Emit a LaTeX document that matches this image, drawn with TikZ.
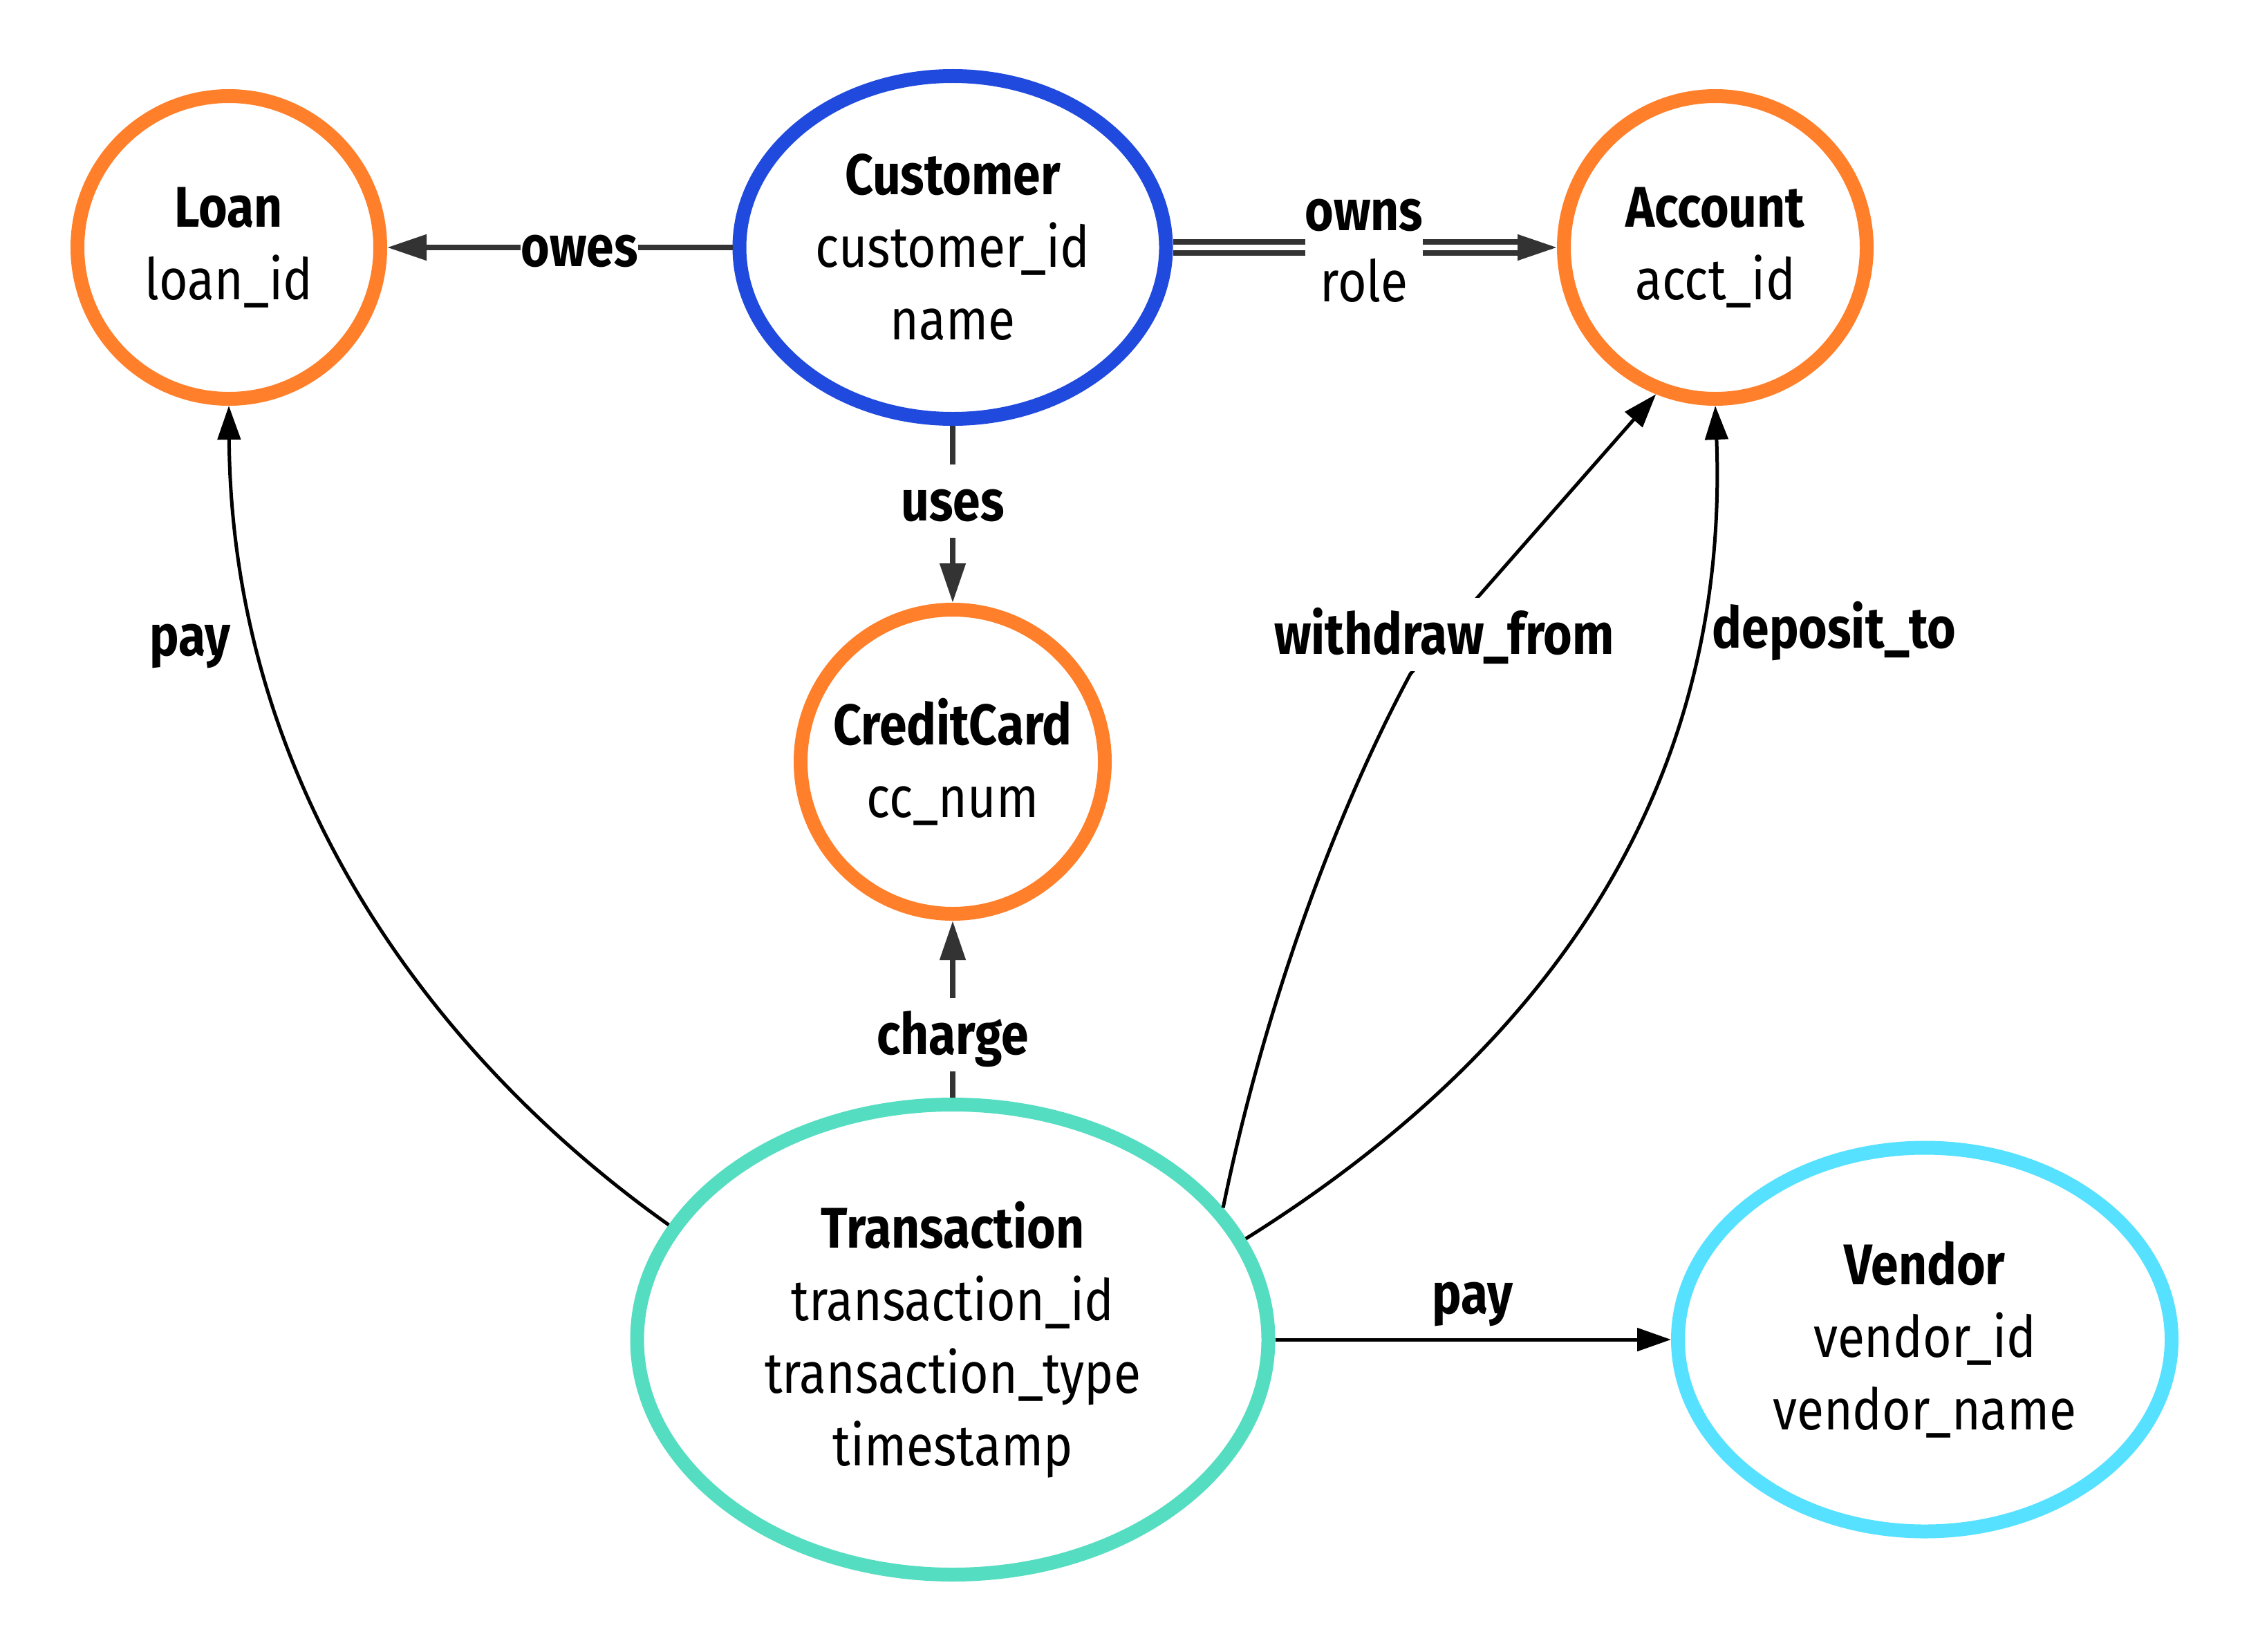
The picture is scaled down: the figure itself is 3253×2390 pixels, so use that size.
\documentclass[tikz,border=0pt]{standalone}
\usepackage{fontspec}
\setmainfont{Fira Sans}[FakeStretch=0.86]
\usetikzlibrary{arrows.meta,shapes.geometric}
\definecolor{corange}{HTML}{FF7F2A}
\definecolor{cblue}{HTML}{204ADD}
\definecolor{cteal}{HTML}{55DDC1}
\definecolor{ccyan}{HTML}{55E1FF}
\definecolor{cdark}{HTML}{333333}
\begin{document}
\begin{tikzpicture}[x=1bp,y=-1bp,
  ent/.style={ellipse, draw, fill=white, line width=20bp, inner sep=-40bp, align=center,
    font=\fontsize{83bp}{105bp}\selectfont},
  dk/.style={draw=cdark, line width=8bp, -{Triangle[length=57bp,width=36bp]}},
  bk/.style={draw=black, line width=5bp, -{Triangle[length=49bp,width=33bp]}},
  lbl/.style={anchor=base, font=\bfseries\fontsize{83bp}{105bp}\selectfont, fill=white,
    inner xsep=0pt, inner ysep=3bp, text height=78bp, text depth=22bp},
  attr/.style={anchor=base, font=\fontsize{83bp}{105bp}\selectfont, inner sep=0pt}
]
\fill[white] (0,0) rectangle (3253,2390);
\useasboundingbox (0,0) rectangle (3253,2390);

% entities
\node[ent, draw=corange, minimum width=438bp, minimum height=438bp] (loan) at (331,358) {{\bfseries Loan}\\loan\_id};
\node[ent, draw=cblue, minimum width=617bp, minimum height=496bp] (cust) at (1378,358) {{\bfseries Customer}\\customer\_id\\name};
\node[ent, draw=corange, minimum width=438bp, minimum height=438bp] (acct) at (2481,358) {{\bfseries Account}\\acct\_id};
\node[ent, draw=corange, minimum width=440bp, minimum height=440bp] (cc) at (1378,1102) {{\bfseries CreditCard}\\cc\_num};
\node[ent, draw=cteal, minimum width=913bp, minimum height=680bp] (trans) at (1378,1938) {{\bfseries Transaction}\\transaction\_id\\transaction\_type\\timestamp};
\node[ent, draw=ccyan, minimum width=714bp, minimum height=555bp] (vend) at (2784,1938) {{\bfseries Vendor}\\vendor\_id\\vendor\_name};

% bend point of withdraw_from (hidden under its label)
\coordinate (wdbend) at (2040,975);

% connectors
\draw[dk] (cust) -- (loan);
\draw[dk, double=white, double distance=8bp] (cust) -- (acct);
\draw[dk] (cust) -- (cc);
\draw[dk] (trans) -- (cc);
\draw[bk] (trans.158) .. controls (640,1540) and (335,1150) .. (loan.south);
\draw[bk] (trans.26) .. controls (1830,1450) and (1935,1170) .. (wdbend) -- (acct.248);
\draw[bk] (trans.19) .. controls (2300,1480) and (2500,1080) .. (acct.south);
\draw[bk] (trans) -- (vend);

% labels
\node[lbl] (owesL) at (838,385) {owes};
\node[lbl, text depth=46bp] (ownsL) at (1973,333) {owns};
\node[attr] (roleL) at (1973,436) {role};
\node[lbl] (usesL) at (1378,753) {uses};
\node[lbl] (chargeL) at (1378,1525) {charge};
\node[lbl] (payL) at (275,948) {pay};
\node[lbl] (wdL) at (2089,946) {withdraw\_from};
\node[lbl] (depL) at (2653,937) {deposit\_to};
\node[lbl] (payV) at (2130,1900) {pay};
\end{tikzpicture}
\end{document}
